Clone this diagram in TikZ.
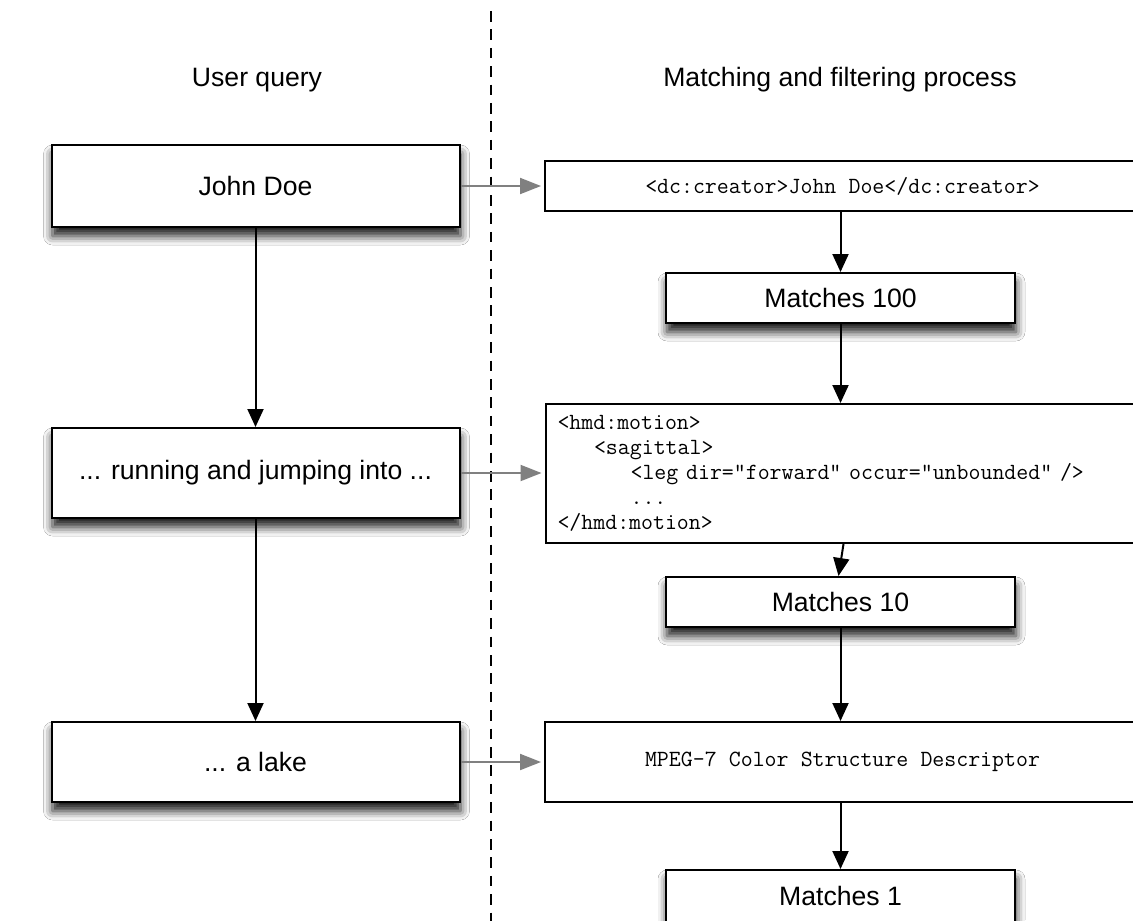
\documentclass[tikz,border=0pt]{standalone}
\usepackage{fontspec}
\setmainfont{Liberation Sans}
\setsansfont{Liberation Sans}
\usetikzlibrary{arrows.meta,calc,shadows.blur}
\newcommand\mymonotext{\ttfamily\fontsize{11.6pt}{12.5pt}\selectfont\spaceskip=0.525em\relax}
\begin{document}
\begin{tikzpicture}[x=0.5pt,y=-0.5pt,
  font=\fontsize{13.3pt}{16pt}\selectfont,
  shadowed/.style={blur shadow={shadow xshift=0.5pt,shadow yshift=-4.5pt,shadow blur radius=4.5pt,shadow opacity=90}},
  qbox/.style={draw,line width=1pt,fill=white,minimum width=204pt,inner sep=0pt,shadowed},
  mbox/.style={draw,line width=1pt,fill=white,minimum width=174.5pt,minimum height=25pt,inner sep=0pt,shadowed},
  wbox/.style={draw,line width=1pt,fill=white,minimum width=297.5pt,inner sep=0pt,font=\mymonotext},
  blk/.style={-{Triangle[length=9pt,width=8pt]},line width=1pt,black},
  gry/.style={-{Triangle[length=10.5pt,width=8pt]},line width=1pt,draw={rgb,255:red,128;green,128;blue,128},shorten >=1.5pt},
  dashline/.style={line width=1pt,dash pattern=on 5.3pt off 3.9pt},
  title/.style={inner sep=0pt}
]
\useasboundingbox (0,0) rectangle (1133,920);
\clip (0,0) rectangle (1133,920);
\fill[white] (0,0) rectangle (1133,920);

% divider
\coordinate (dtop) at (491,11);
\coordinate (dbot) at (491,925);
\draw[dashline] (dtop) -- (dbot);

% titles
\node[title] (t1) at (257,80) {User query};
\node[title] (t2) at (840,80) {Matching and filtering process};

% left column
\node[qbox,minimum height=41pt] (jd) at (255.5,186) {John Doe};
\node[qbox,minimum height=45pt] (run) at (255.5,473) {... running and jumping into ...};
\node[qbox,minimum height=40pt] (lake) at (255.5,762) {... a lake};

% right column
\node[wbox,minimum height=25pt] (dc) at (842.5,186) {<dc:creator>John Doe</dc:creator>};
\node[mbox] (m100) at (840.5,298) {Matches 100};
\node[wbox,minimum height=69.5pt,text width=285.5pt,inner xsep=6pt,align=left] (hmd) at (843,473.5)
  {<hmd:motion>\\
   \hspace*{1.575em}<sagittal>\\
   \hspace*{3.15em}<leg dir="forward" occur="unbounded" />\\
   \hspace*{3.15em}...\\
   </hmd:motion>};
\node[mbox] (m10) at (840.5,602) {Matches 10};
\node[wbox,minimum height=40pt] (mpeg) at (842.5,762) {MPEG-7 Color Structure Descriptor};
\node[mbox,minimum height=26pt] (m1) at (840.5,896) {Matches 1};

% left arrows
\draw[blk] (jd.south) -- (run.north);
\draw[blk] (run.south) -- (lake.north);

% cross arrows
\draw[gry] (jd.east) -- (jd.east -| dc.west);
\draw[gry] (run.east) -- (run.east -| hmd.west);
\draw[gry] (lake.east) -- (lake.east -| mpeg.west);

% right arrows
\draw[blk] (dc.south -| m100.north) -- (m100.north);
\draw[blk] (m100.south) -- (hmd.north -| m100.south);
\draw[blk] ($(hmd.south -| m10.north)+(3,0)$) -- ($(m10.north)+(-2,0)$);
\draw[blk] (m10.south) -- (mpeg.north -| m10.south);
\draw[blk] (mpeg.south -| m1.north) -- (m1.north);
\end{tikzpicture}
\end{document}
